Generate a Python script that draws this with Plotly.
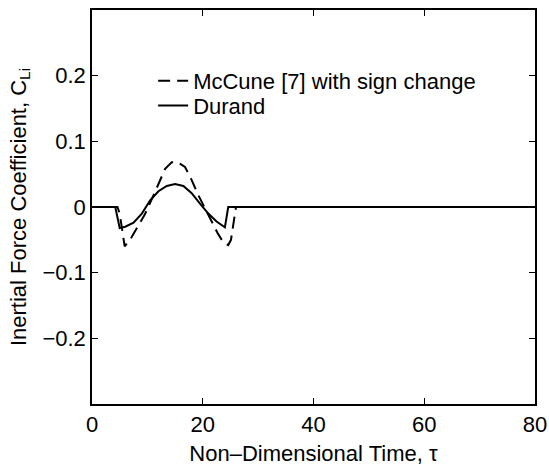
import plotly.graph_objects as go

# Durand (solid)
durand_tau = [0, 4.2, 5.0, 6.0, 7.5, 9.0, 10.5, 12.0, 13.5, 15.0, 16.5, 18.0, 19.5, 21.0, 22.5, 24.0, 24.6, 80]
durand_cl = [0, 0, -0.032, -0.030, -0.024, -0.010, 0.010, 0.024, 0.032, 0.035, 0.032, 0.021, 0.005, -0.010, -0.022, -0.031, 0, 0]

# McCune [7] with sign change (dashed)
mccune_tau = [0, 4.6, 5.0, 5.9, 7.0, 8.2, 9.5, 10.7, 12.0, 13.2, 14.4, 15.5, 16.8, 18.0, 19.2, 20.4, 21.5, 22.7, 23.8, 24.6, 25.1, 26.0, 80]
mccune_cl = [0, 0, -0.010, -0.060, -0.048, -0.030, -0.012, 0.010, 0.036, 0.058, 0.068, 0.068, 0.061, 0.041, 0.018, -0.002, -0.020, -0.040, -0.055, -0.058, -0.050, 0, 0]

x_ticks = [0, 20, 40, 60, 80]
y_ticks = [-0.2, -0.1, 0, 0.1, 0.2]
y_tick_labels = ["\u22120.2", "\u22120.1", "0", "0.1", "0.2"]

FONT = "Liberation Sans, Arial, Helvetica, sans-serif"
FS = 22

fig = go.Figure()
fig.add_trace(go.Scatter(
    x=mccune_tau, y=mccune_cl, mode="lines",
    name="McCune [7] with sign change",
    line=dict(color="black", width=2, dash="12px,7px"),
    legend="legend",
))
fig.add_trace(go.Scatter(
    x=durand_tau, y=durand_cl, mode="lines",
    name="Durand",
    line=dict(color="black", width=2),
    legend="legend2",
))

axis_common = dict(
    showgrid=False, zeroline=False, showline=True, linecolor="black", linewidth=1.5,
    mirror="ticks", ticks="inside", ticklen=6, tickwidth=1, tickcolor="black",
    tickfont=dict(family=FONT, size=FS, color="black"),
    automargin=False,
)

fig.update_xaxes(
    range=[0, 80], tickvals=x_ticks, ticktext=[str(v) for v in x_ticks],
    title=dict(text="Non\u2013Dimensional Time, \u03c4", font=dict(family=FONT, size=FS, color="black"), standoff=9),
    **axis_common,
)
fig.update_yaxes(
    range=[-0.3, 0.3], tickvals=y_ticks, ticktext=y_tick_labels,
    title=dict(text="Inertial Force Coefficient, C<sub>Li</sub>", font=dict(family=FONT, size=FS, color="black"), standoff=10),
    **axis_common,
)

legend_common = dict(
    xanchor="left", yanchor="middle",
    bgcolor="rgba(0,0,0,0)", borderwidth=0,
    font=dict(family=FONT, size=FS, color="black"),
    itemwidth=30,
)

fig.update_layout(
    width=549, height=467,
    margin=dict(l=92, r=14, t=10, b=63),
    paper_bgcolor="white", plot_bgcolor="white",
    showlegend=True,
    legend=dict(x=0.138, y=0.82, **legend_common),
    legend2=dict(x=0.138, y=0.757, **legend_common),
)

fig.write_html(
    "out.html",
    config={"displayModeBar": False},
    post_script="document.body.style.margin='0';document.body.style.overflow='hidden';",
)
